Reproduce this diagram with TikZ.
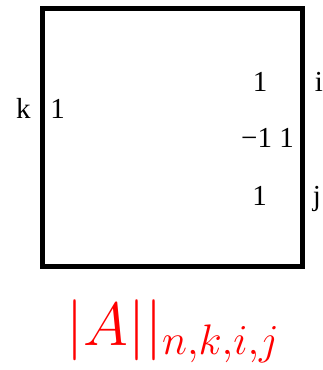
\documentclass[tikz,border=0pt]{standalone}
\usepackage{fix-cm}
\usepackage{fontspec}
\setmainfont{Liberation Serif}
\usepackage{xcolor}

\begin{document}
\begin{tikzpicture}[x=1pt, y=-1pt,
      every node/.style={inner sep=0pt, font=\fontsize{29}{32}\selectfont},
      entry/.style={anchor=base}]
    \useasboundingbox (0,0) rectangle (322,370);
    % the matrix frame
    \node[draw, line width=5pt, minimum width=260pt,
          minimum height=258pt] (frame) at (172.5,137) {};
    % row and column marks
    \node[entry] (rowk)  at (23.5,118) {k};
    \node[entry] (rowi)  at (319,91)   {i};
    \node[entry] (rowj)  at (317,205)  {j};
    % entries of the matrix
    \node[entry] (eK)  at (57.5,118) {1};
    \node[entry] (eI)  at (260,91)   {1};
    \node[entry] (eM)  at (267.5,147.5) {−1 1};
    \node[entry] (eJ)  at (259.5,205) {1};
    % caption
    \node[entry, red, font=\fontsize{61}{66}\selectfont] (caption)
          at (173,345) {$|A||_{n,k,i,j}$};
  \end{tikzpicture}
\end{document}
